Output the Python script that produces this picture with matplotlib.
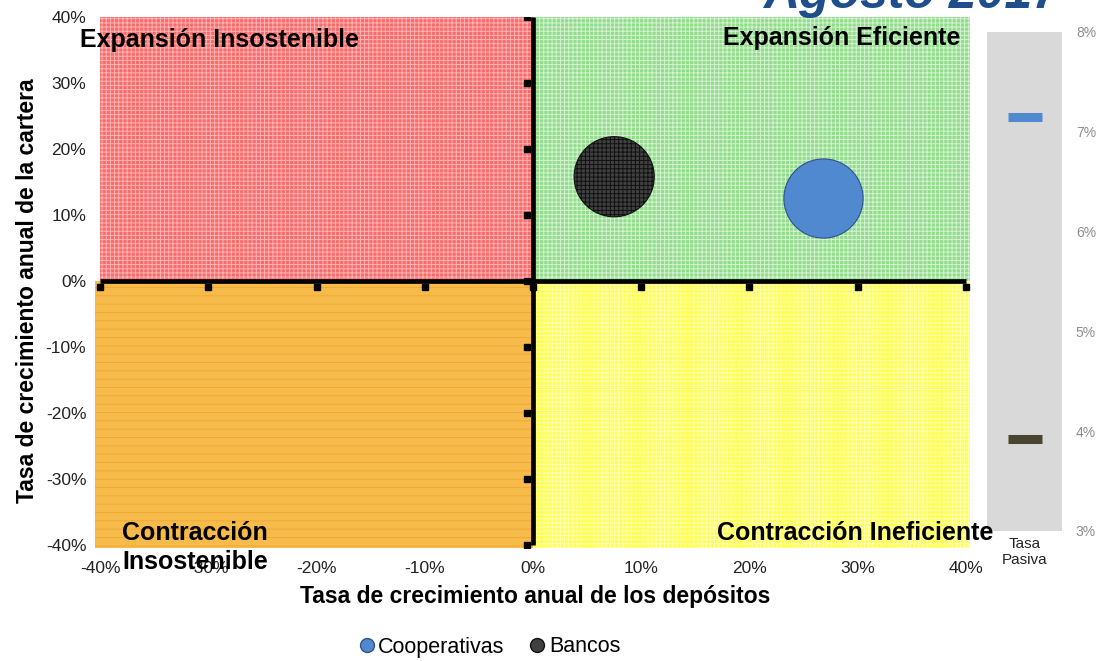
import matplotlib
matplotlib.use('Agg')
import matplotlib.pyplot as plt
from matplotlib.patches import Rectangle
from matplotlib.lines import Line2D

# bubble chart: deposit growth vs loan growth, with passive rate panel on the right

segmentos = ['Cooperativas', 'Bancos']
crec_depositos = [26.8, 7.5]       # % anual
crec_cartera = [12.6, 15.8]        # % anual
tamano_burbuja = [3250, 3330]      # marker area
tasa_pasiva = [7.15, 3.92]         # %
colores = ['#5089d0', '#404040']
bordes = ['#2f528f', '#111111']
tramas = [None, '++++']

ticks_main = list(range(-40, 41, 10))
ticks_tasa = [3, 4, 5, 6, 7, 8]

plt.rcParams['font.family'] = ['Liberation Sans', 'DejaVu Sans']
plt.rcParams['hatch.linewidth'] = 0.7

W, H = 1099, 661
fig = plt.figure(figsize=(W / 100, H / 100), dpi=100)

def fx(px):
    return px / W

def fy(py):
    return 1 - py / H

ax = fig.add_axes([fx(94.6), fy(548.3), fx(970.3) - fx(94.6), fy(17) - fy(548.3)])
ax.set_xlim(-40.5, 40.4)
ax.set_ylim(-40.5, 40)

# quadrants
quads = [
    ((-40, 0), 40, 40, '#f86c6c', '#ffb3b3', '++++'),
    ((0, 0), 40.4, 40, '#92dc8c', '#d4f3d1', '++++'),
    ((-40.5, -40.5), 40.5, 40.5, '#f6bb4a', '#f0a935', '--'),
    ((0, -40.5), 40.4, 40.5, '#ffff55', '#ffffb8', '++++'),
]
for xy, w, h, fc, hc, hp in quads:
    ax.add_patch(Rectangle(xy, w, h, facecolor=fc, edgecolor=hc, hatch=hp,
                           linewidth=0, zorder=0))

# central axes lines with tick marks
ax.plot([-40, 40], [0, 0], color='black', lw=3.4, zorder=2, solid_capstyle='butt')
ax.plot([0, 0], [-40, 40], color='black', lw=3.4, zorder=2, solid_capstyle='butt')
ax.plot(ticks_main, [-0.9] * len(ticks_main), ls='none', marker='s', ms=3.8,
        color='black', zorder=2)
ax.plot([-0.55] * len(ticks_main), ticks_main, ls='none', marker='s', ms=3.8,
        color='black', zorder=2)

for i in range(len(segmentos)):
    ax.scatter(crec_depositos[i], crec_cartera[i], s=tamano_burbuja[i],
               color=colores[i], edgecolors=bordes[i], linewidths=0.8,
               hatch=tramas[i], zorder=3)

for s in ax.spines.values():
    s.set_visible(False)
ax.set_xticks(ticks_main)
ax.set_xticklabels(['%d%%' % t for t in ticks_main])
ax.set_yticks(ticks_main)
ax.set_yticklabels(['%d%%' % t for t in ticks_main])
ax.tick_params(axis='x', length=0, pad=9, labelsize=12.5, colors='#222222')
ax.tick_params(axis='y', length=0, pad=6, labelsize=12.5, colors='#222222')

# quadrant names
qkw = dict(fontsize=18, fontweight='bold', color='black', zorder=5)
fig.text(fx(80), fy(40), 'Expansión Insostenible', ha='left', va='center', **qkw)
fig.text(fx(960), fy(38), 'Expansión Eficiente', ha='right', va='center', **qkw)
fig.text(fx(195), fy(547.5), 'Contracción\nInsostenible', ha='center', va='center',
         linespacing=1.3, **qkw)
fig.text(fx(993), fy(533), 'Contracción Ineficiente', ha='right', va='center', **qkw)

fig.text(fx(535), fy(597), 'Tasa de crecimiento anual de los depósitos',
         ha='center', va='center', fontsize=16.5, fontweight='bold')
fig.text(fx(28), fy(291), 'Tasa de crecimiento anual de la cartera',
         ha='center', va='center', rotation=90, fontsize=16.5, fontweight='bold')

fig.text(fx(1060), fy(8), 'Agosto 2017', ha='right', va='baseline',
         fontsize=36, fontweight='bold', fontstyle='italic', color='#1f4e8c')

# passive rate panel
ax2 = fig.add_axes([fx(987), fy(531), fx(1062) - fx(987), fy(32) - fy(531)])
ax2.set_facecolor('#d9d9d9')
ax2.set_xlim(-0.5, 0.5)
ax2.set_ylim(3, 8)
for i in range(len(segmentos)):
    ax2.plot([0], [tasa_pasiva[i]], marker='_', ms=25, mew=6.5,
             color=colores[i] if i == 0 else '#4a4530')
for s in ax2.spines.values():
    s.set_visible(False)
ax2.yaxis.tick_right()
ax2.set_yticks(ticks_tasa)
ax2.set_yticklabels(['%d%%' % t for t in ticks_tasa])
ax2.set_xticks([0])
ax2.set_xticklabels(['Tasa\nPasiva'])
ax2.tick_params(axis='y', length=0, pad=10, labelsize=10, colors='#8c8c8c')
ax2.tick_params(axis='x', length=0, pad=4, labelsize=11, colors='#222222')

# legend
handles = [Line2D([], [], ls='none', marker='o', ms=10, color=colores[i],
                  markeredgecolor=bordes[i]) for i in range(len(segmentos))]
fig.legend(handles, segmentos, loc='center', bbox_to_anchor=(fx(488), fy(647)),
           ncol=2, frameon=False, fontsize=15.5, handletextpad=0.05,
           columnspacing=1.0, handlelength=1.0)

fig.savefig('out.png', dpi=100)
